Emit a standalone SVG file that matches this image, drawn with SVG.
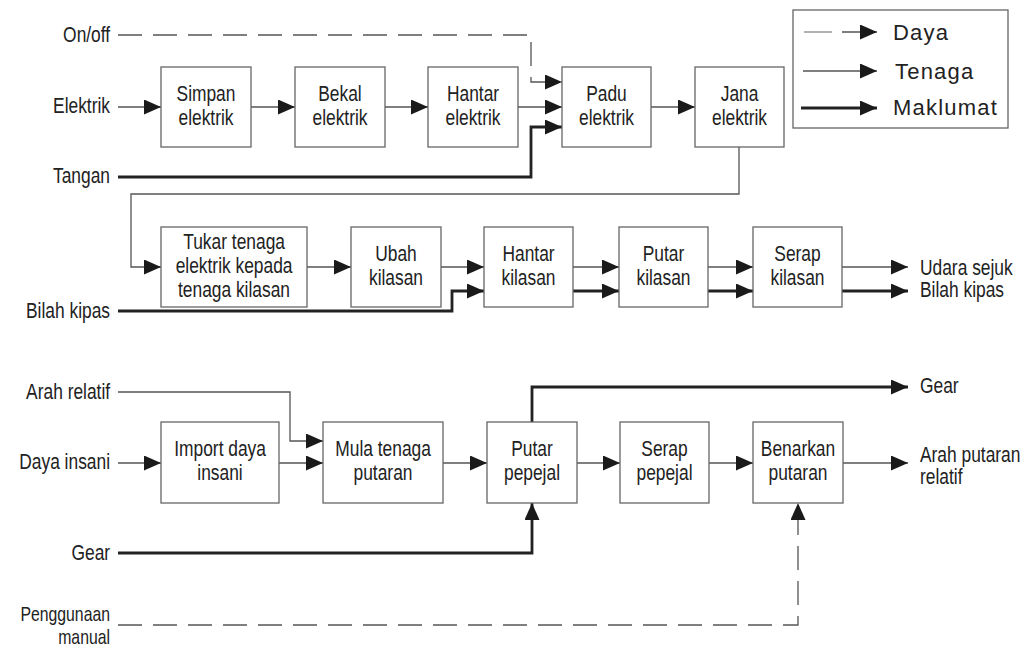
<svg xmlns="http://www.w3.org/2000/svg" width="1028" height="649" viewBox="0 0 1028 649">
<defs>
<marker id="ah" markerUnits="userSpaceOnUse" markerWidth="17" markerHeight="15" refX="17" refY="7.5" orient="auto"><path d="M0,0 L17,7.5 L0,15 z" fill="#1a1a1a"/></marker>
<style>
.box{fill:#fff;stroke:#666;stroke-width:1.3}
.t{font-family:"Liberation Sans",Arial,sans-serif;font-size:22px;fill:#222;transform-box:fill-box;transform:scaleX(0.79);transform-origin:left center}
.m{text-anchor:middle;transform-origin:center}
.e{text-anchor:end;transform-origin:right center}
.sm{font-size:20px}
.lg{font-family:"Liberation Sans",Arial,sans-serif;font-size:22px;fill:#222;letter-spacing:1.2px}
.thin{fill:none;stroke:#555;stroke-width:1.3}
.thick{fill:none;stroke:#222;stroke-width:2.8}
.dash{fill:none;stroke:#555;stroke-width:1.3;stroke-dasharray:24 11}
.arr{marker-end:url(#ah)}
</style>
</defs>
<rect width="1028" height="649" fill="#fff"/>

<g id="connectors">
<path class="dash arr" d="M118,35 H531 V82 H562"/>
<path class="thin arr" d="M118,107 H161"/>
<path class="thick arr" d="M118,177 H531 V127 H562"/>
<path class="thin arr" d="M251,107 H295"/>
<path class="thin arr" d="M385,107 H428"/>
<path class="thin arr" d="M518,107 H562"/>
<path class="thin arr" d="M651,107 H695"/>
<path class="thin arr" d="M739,147 V194 H131 V267 H161"/>
<path class="thin arr" d="M307,267 H351"/>
<path class="thin arr" d="M441,267 H484"/>
<path class="thick arr" d="M118,311 H452 V291 H484"/>
<path class="thin arr" d="M573,267 H619"/>
<path class="thick arr" d="M573,291 H619"/>
<path class="thin arr" d="M708,267 H753"/>
<path class="thick arr" d="M708,291 H753"/>
<path class="thin arr" d="M842,267 H908"/>
<path class="thick arr" d="M842,291 H908"/>
<path class="thin arr" d="M118,392 H290 V441 H323"/>
<path class="thin arr" d="M118,463 H161"/>
<path class="thin arr" d="M279,463 H323"/>
<path class="thin arr" d="M443,463 H487"/>
<path class="thin arr" d="M577,463 H620"/>
<path class="thin arr" d="M709,463 H753"/>
<path class="thin arr" d="M843,463 H908"/>
<path class="thick arr" d="M532,422 V387 H908"/>
<path class="thick arr" d="M118,553 H532 V503"/>
<path class="dash arr" d="M118,625 H798 V503"/>
</g>

<g id="labels">
<text class="t e" x="110" y="42">On/off</text>
<text class="t e" x="110" y="113">Elektrik</text>
<text class="t e" x="110" y="183">Tangan</text>
<text class="t e" x="110" y="318">Bilah kipas</text>
<text class="t e" x="110" y="399">Arah relatif</text>
<text class="t e" x="110" y="469">Daya insani</text>
<text class="t e" x="110" y="560">Gear</text>
<text class="t e sm" x="110" y="621">Penggunaan</text>
<text class="t e sm" x="110" y="644">manual</text>
<text class="t" x="920" y="275">Udara sejuk</text>
<text class="t" x="920" y="297">Bilah kipas</text>
<text class="t" x="920" y="393">Gear</text>
<text class="t" x="920" y="462">Arah putaran</text>
<text class="t" x="920" y="484">relatif</text>
</g>

<g id="simpan"><rect class="box" x="161" y="67" width="90" height="80"/><text class="t m" x="206" y="101">Simpan</text><text class="t m" x="206" y="125">elektrik</text></g>
<g id="bekal"><rect class="box" x="295" y="67" width="90" height="80"/><text class="t m" x="340" y="101">Bekal</text><text class="t m" x="340" y="125">elektrik</text></g>
<g id="hantar-elektrik"><rect class="box" x="428" y="67" width="90" height="80"/><text class="t m" x="473" y="101">Hantar</text><text class="t m" x="473" y="125">elektrik</text></g>
<g id="padu"><rect class="box" x="562" y="67" width="89" height="80"/><text class="t m" x="606.5" y="101">Padu</text><text class="t m" x="606.5" y="125">elektrik</text></g>
<g id="jana"><rect class="box" x="695" y="67" width="89" height="80"/><text class="t m" x="739.5" y="101">Jana</text><text class="t m" x="739.5" y="125">elektrik</text></g>

<g id="tukar"><rect class="box" x="161" y="227" width="146" height="80"/><text class="t m" x="234" y="249">Tukar tenaga</text><text class="t m" x="234" y="273">elektrik kepada</text><text class="t m" x="234" y="297">tenaga kilasan</text></g>
<g id="ubah"><rect class="box" x="351" y="227" width="90" height="80"/><text class="t m" x="396" y="261">Ubah</text><text class="t m" x="396" y="285">kilasan</text></g>
<g id="hantar-kilasan"><rect class="box" x="484" y="227" width="89" height="80"/><text class="t m" x="528.5" y="261">Hantar</text><text class="t m" x="528.5" y="285">kilasan</text></g>
<g id="putar-kilasan"><rect class="box" x="619" y="227" width="89" height="80"/><text class="t m" x="663.5" y="261">Putar</text><text class="t m" x="663.5" y="285">kilasan</text></g>
<g id="serap-kilasan"><rect class="box" x="753" y="227" width="89" height="80"/><text class="t m" x="797.5" y="261">Serap</text><text class="t m" x="797.5" y="285">kilasan</text></g>

<g id="import"><rect class="box" x="161" y="422" width="118" height="81"/><text class="t m" x="220" y="456">Import daya</text><text class="t m" x="220" y="480">insani</text></g>
<g id="mula"><rect class="box" x="323" y="422" width="120" height="81"/><text class="t m" x="383" y="456">Mula tenaga</text><text class="t m" x="383" y="480">putaran</text></g>
<g id="putar-pepejal"><rect class="box" x="487" y="422" width="90" height="81"/><text class="t m" x="532" y="456">Putar</text><text class="t m" x="532" y="480">pepejal</text></g>
<g id="serap-pepejal"><rect class="box" x="620" y="422" width="89" height="81"/><text class="t m" x="664.5" y="456">Serap</text><text class="t m" x="664.5" y="480">pepejal</text></g>
<g id="benarkan"><rect class="box" x="753" y="422" width="90" height="81"/><text class="t m" x="798" y="456">Benarkan</text><text class="t m" x="798" y="480">putaran</text></g>

<g id="legend">
<rect class="box" x="793" y="10" width="215" height="118" stroke="#444"/>
<line x1="804" y1="32" x2="832" y2="32" stroke="#888" stroke-width="1.3"/>
<path class="thin arr" d="M842,32 H877"/>
<path class="thin arr" d="M803,71 H877"/>
<path class="thick arr" d="M801,108 H877"/>
<text class="lg" x="893" y="40">Daya</text>
<text class="lg" x="895" y="79">Tenaga</text>
<text class="lg" x="893" y="115">Maklumat</text>
</g>
</svg>
